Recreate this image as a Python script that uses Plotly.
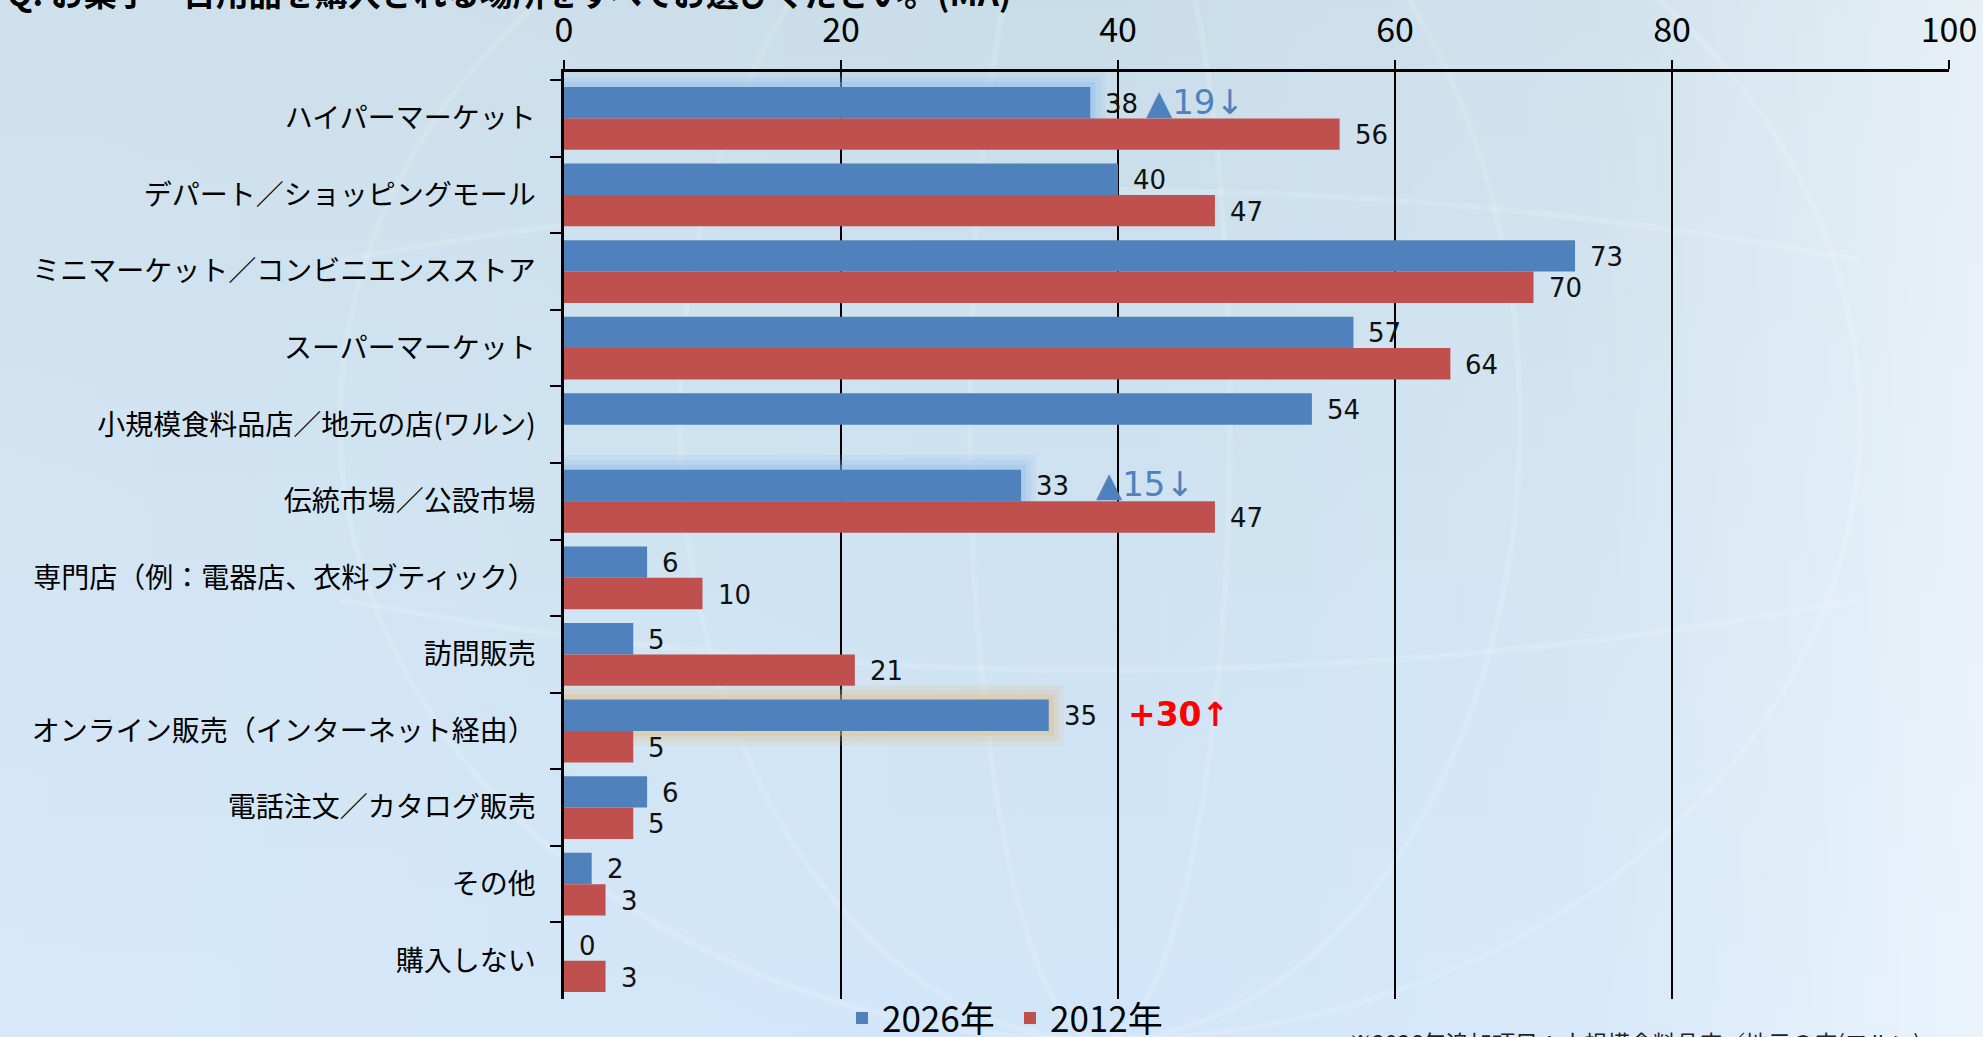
import base64
import plotly.graph_objects as go

# ---- data -------------------------------------------------------------
categories = [
    "ハイパーマーケット",
    "デパート／ショッピングモール",
    "ミニマーケット／コンビニエンスストア",
    "スーパーマーケット",
    "小規模食料品店／地元の店(ワルン)",
    "伝統市場／公設市場",
    "専門店（例：電器店、衣料ブティック）",
    "訪問販売",
    "オンライン販売（インターネット経由）",
    "電話注文／カタログ販売",
    "その他",
    "購入しない",
]
share_2026 = [38, 40, 73, 57, 54, 33, 6, 5, 35, 6, 2, 0]
share_2012 = [56, 47, 70, 64, None, 47, 10, 21, 5, 5, 3, 3]
x_ticks = [0, 20, 40, 60, 80, 100]
series_names = ["2026年", "2012年"]

title_text = "Q. お菓子・日用品を購入される場所をすべてお選びください。(MA)"
note_text = "※2026年追加項目：小規模食料品店／地元の店(ワルン)"

# change callouts next to the highlighted 2026 bars
callout_rows = [0, 5, 8]
callout_texts = ["▲19↓", "▲15↓", "+30↑"]

# ---- styling ----------------------------------------------------------
W, H = 1983, 1037
M_L, M_R, M_T, M_B = 564, 34, 72, 38
PW, PH = W - M_L - M_R, H - M_T - M_B
FONT = "Noto Sans CJK JP, Noto Sans, DejaVu Sans"
NUM_FONT = "DejaVu Sans, Noto Sans CJK JP"
BLUE, RED = "#4F81BD", "#C0504D"
BARGAP = 0.18
HALF = (1 - BARGAP) / 2          # width of one bar in category units
BAR_PX = HALF * PH / len(categories)

callout_x = [41.9, 38.3, 40.6]
callout_colors = [BLUE, BLUE, "#FF0000"]
callout_sizes = [34, 34, 33]
callout_bold = [False, False, True]
glow_colors = ["#8FBCEB", "#8FBCEB", "#E3BE85"]

# soft blue page background
bg_svg = f"""<svg xmlns='http://www.w3.org/2000/svg' width='{W}' height='{H}' viewBox='0 0 {W} {H}'>
<defs>
<linearGradient id='v' x1='0' y1='0' x2='0' y2='1'>
<stop offset='0' stop-color='#C9DDE9'/><stop offset='0.5' stop-color='#CEE2F1'/><stop offset='1' stop-color='#D2E6F9'/>
</linearGradient>
<linearGradient id='h' x1='0' y1='0' x2='1' y2='0'>
<stop offset='0' stop-color='#FFFFFF' stop-opacity='0.10'/><stop offset='0.55' stop-color='#FFFFFF' stop-opacity='0'/>
<stop offset='0.8' stop-color='#FFFFFF' stop-opacity='0.12'/><stop offset='1' stop-color='#FFFFFF' stop-opacity='0.55'/>
</linearGradient>
</defs>
<rect width='{W}' height='{H}' fill='url(#v)'/>
<rect width='{W}' height='{H}' fill='url(#h)'/>
<g fill='none' stroke='#FFFFFF' stroke-opacity='0.14' stroke-width='6'>
<ellipse cx='1100' cy='420' rx='760' ry='620'/>
<ellipse cx='1100' cy='420' rx='420' ry='620'/>
<ellipse cx='1100' cy='420' rx='130' ry='620'/>
<path d='M 340 260 Q 1100 120 1860 260'/>
<path d='M 340 600 Q 1100 740 1860 600'/>
</g>
</svg>"""
bg_uri = "data:image/svg+xml;base64," + base64.b64encode(bg_svg.encode("utf-8")).decode()

fig = go.Figure()
fig.add_trace(go.Bar(
    name=series_names[0], y=categories, x=share_2026, orientation="h",
    marker=dict(color=BLUE, line=dict(width=0)), hoverinfo="skip",
))
fig.add_trace(go.Bar(
    name=series_names[1], y=categories, x=share_2012, orientation="h",
    marker=dict(color=RED, line=dict(width=0)), hoverinfo="skip",
))

# soft glow behind highlighted 2026 bars
shapes = []
for row, col in zip(callout_rows, glow_colors):
    for lw, op in [(30, 0.14), (20, 0.2), (10, 0.32)]:
        shapes.append(dict(
            type="rect", xref="x", yref="y", layer="between",
            x0=0, x1=share_2026[row], y0=row - HALF, y1=row,
            fillcolor=col, line=dict(color=col, width=lw), opacity=op,
        ))

annotations = []
# value labels
for i, v in enumerate(share_2026):
    annotations.append(dict(
        x=v, y=categories[i], xref="x", yref="y", text=str(v),
        showarrow=False, xanchor="left", xshift=13, yshift=BAR_PX / 2 - 1,
        font=dict(family=NUM_FONT, size=26, color="#111111"),
    ))
for i, v in enumerate(share_2012):
    if v is None:
        continue
    annotations.append(dict(
        x=v, y=categories[i], xref="x", yref="y", text=str(v),
        showarrow=False, xanchor="left", xshift=13, yshift=-BAR_PX / 2 - 1,
        font=dict(family=NUM_FONT, size=26, color="#111111"),
    ))
# change callouts
for row, txt, cx, colr, sz, bold in zip(callout_rows, callout_texts, callout_x,
                                        callout_colors, callout_sizes, callout_bold):
    annotations.append(dict(
        x=cx, y=categories[row], xref="x", yref="y",
        text=f"<b>{txt}</b>" if bold else txt,
        showarrow=False, xanchor="left", yshift=BAR_PX / 2 + 1,
        font=dict(family=NUM_FONT, size=sz, color=colr),
    ))
# question title (runs off the top edge) and footnote
annotations.append(dict(
    x=(5 - M_L) / PW, y=1 + (M_T - 18) / PH, xref="paper", yref="paper",
    text=f"<b>{title_text}</b>", showarrow=False, xanchor="left", yanchor="bottom",
    font=dict(family=FONT, size=33, color="#000000"),
))
annotations.append(dict(
    x=(1347 - M_L) / PW, y=-(1023 - (H - M_B)) / PH, xref="paper", yref="paper",
    text=note_text, showarrow=False, xanchor="left", yanchor="top",
    font=dict(family=FONT, size=23, color="#222222"),
))

fig.update_layout(
    width=W, height=H,
    margin=dict(l=M_L, r=M_R, t=M_T, b=M_B, pad=0, autoexpand=False),
    paper_bgcolor="#CFE2F2", plot_bgcolor="rgba(0,0,0,0)",
    barmode="group", bargap=BARGAP, bargroupgap=0,
    font=dict(family=FONT, color="#000000"),
    shapes=shapes, annotations=annotations,
    images=[dict(
        source=bg_uri, xref="paper", yref="paper",
        x=-M_L / PW, y=1 + M_T / PH, sizex=W / PW, sizey=H / PH,
        xanchor="left", yanchor="top", sizing="stretch", layer="below",
    )],
    legend=dict(
        orientation="h", x=(842 - M_L) / PW, xanchor="left",
        y=0.011, yanchor="top", font=dict(family=FONT, size=35),
        bgcolor="rgba(0,0,0,0)", itemclick=False, tracegroupgap=0,
        entrywidth=123, entrywidthmode="pixels",
    ),
    showlegend=True,
)
fig.update_xaxes(
    side="top", range=[0, 100], tickvals=x_ticks, ticktext=[str(t) for t in x_ticks],
    showgrid=True, gridcolor="#000000", gridwidth=1.5,
    showline=True, linecolor="#000000", linewidth=2.5,
    ticks="outside", ticklen=9, tickwidth=2, tickcolor="#000000",
    tickfont=dict(family=FONT, size=34, color="#000000"),
    ticklabelstandoff=5, zeroline=False, fixedrange=True,
)
fig.update_yaxes(
    autorange="reversed", type="category",
    showline=True, linecolor="#000000", linewidth=2.5,
    ticks="outside", ticklen=11, tickwidth=2, tickcolor="#000000",
    tickson="boundaries", showgrid=False,
    tickfont=dict(family=FONT, size=28, color="#000000"),
    ticklabelstandoff=20, fixedrange=True,
)

fig.write_html("out.html")
